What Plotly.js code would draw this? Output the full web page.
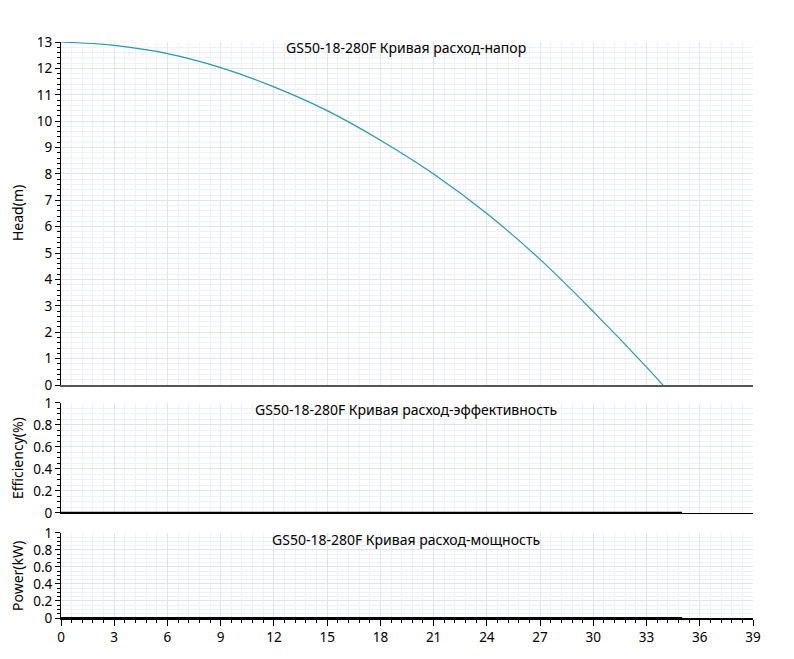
<!DOCTYPE html>
<html>
<head>
<meta charset="utf-8">
<script src="https://cdn.plot.ly/plotly-3.0.1.min.js"></script>
<style>html,body{margin:0;padding:0;background:#fff;}#chart{width:794px;height:659px;}</style>
</head>
<body>
<div id="chart"></div>
<script>
const headFlow = [0, 3, 6, 9, 12, 15, 18, 21, 24, 27, 30, 33, 33.92];
const headValues = [13.0, 12.87, 12.56, 12.03, 11.3, 10.4, 9.28, 8.0, 6.5, 4.76, 2.78, 0.68, 0];
const effFlow = [0, 35];
const effValues = [0, 0];
const powerFlow = [0, 35];
const powerValues = [0, 0];
const titleHead = "GS50-18-280F Кривая расход-напор";
const titleEff = "GS50-18-280F Кривая расход-эффективность";
const titlePower = "GS50-18-280F Кривая расход-мощность";

const FONT = "Noto Sans, sans-serif";
const majorGrid = "#dfe5ef";
const minorGrid = "#eef2f8";

function xAxis(extra) {
  return Object.assign({
    range: [0, 39], dtick: 3, tick0: 0,
    showgrid: true, gridcolor: majorGrid, gridwidth: 1,
    minor: {dtick: 0.6, showgrid: true, gridcolor: minorGrid, ticks: '', ticklen: 3},
    zeroline: false, showline: true, linecolor: '#555', linewidth: 2,
    ticks: '', showticklabels: false, fixedrange: true
  }, extra || {});
}
function yAxis(domain, range, dtick, minorDtick, extra) {
  return Object.assign({
    domain: domain, range: range, dtick: dtick, tick0: 0,
    showgrid: true, gridcolor: majorGrid, gridwidth: 1,
    minor: {dtick: minorDtick, showgrid: true, gridcolor: minorGrid, ticks: 'outside', ticklen: 3, tickcolor: '#000'},
    zeroline: false, showline: true, linecolor: '#000', linewidth: 1,
    ticks: 'outside', ticklen: 5, tickcolor: '#000',
    tickfont: {family: FONT, size: 13.5, color: '#000'},
    fixedrange: true
  }, extra || {});
}

const data = [
  {x: headFlow, y: headValues, type: 'scatter', mode: 'lines', line: {color: '#2a97b4', width: 1.2, shape: 'spline', smoothing: 1}, xaxis: 'x', yaxis: 'y', hoverinfo: 'skip'},
  {x: effFlow, y: effValues, type: 'scatter', mode: 'lines', line: {color: '#000', width: 2.5}, xaxis: 'x2', yaxis: 'y2', hoverinfo: 'skip', cliponaxis: false},
  {x: powerFlow, y: powerValues, type: 'scatter', mode: 'lines', line: {color: '#000', width: 2}, xaxis: 'x3', yaxis: 'y3', hoverinfo: 'skip', cliponaxis: false}
];

function py(px) { return (618 - px) / 576; }
const titleFont = {family: FONT, size: 14, color: '#000'};

const layout = {
  width: 794, height: 659,
  margin: {l: 61, r: 41, t: 42, b: 41},
  paper_bgcolor: '#fff', plot_bgcolor: '#fff',
  showlegend: false,
  font: {family: FONT, size: 13, color: '#000'},
  xaxis: xAxis({anchor: 'y'}),
  xaxis2: xAxis({anchor: 'y2', matches: 'x', linecolor: '#000', linewidth: 1.5}),
  xaxis3: xAxis({anchor: 'y3', matches: 'x', linecolor: '#000', linewidth: 1.5,
    showticklabels: true, ticks: 'outside', ticklen: 6, tickcolor: '#000',
    minor: {dtick: 0.6, showgrid: true, gridcolor: minorGrid, ticks: 'outside', ticklen: 3, tickcolor: '#000'},
    tickfont: {family: FONT, size: 13.5, color: '#000'}}),
  yaxis: yAxis([0.4045, 1], [0, 13], 1, 0.2, {anchor: 'x'}),
  yaxis2: yAxis([0.1823, 0.3733], [0, 1], 0.2, 0.05, {anchor: 'x2'}),
  yaxis3: yAxis([0, 0.1476], [0, 1], 0.2, 0.05, {anchor: 'x3'}),
  annotations: [
    {text: titleHead, xref: 'paper', yref: 'paper', x: (406 - 61) / 692, y: py(48), xanchor: 'center', yanchor: 'middle', showarrow: false, font: titleFont},
    {text: titleEff, xref: 'paper', yref: 'paper', x: (406 - 61) / 692, y: py(409), xanchor: 'center', yanchor: 'middle', showarrow: false, font: titleFont},
    {text: titlePower, xref: 'paper', yref: 'paper', x: (406 - 61) / 692, y: py(539), xanchor: 'center', yanchor: 'middle', showarrow: false, font: titleFont},
    {text: 'Head(m)', xref: 'paper', yref: 'paper', x: (17 - 61) / 692, y: py(213), xanchor: 'center', yanchor: 'middle', textangle: -90, showarrow: false, font: titleFont},
    {text: 'Efficiency(%)', xref: 'paper', yref: 'paper', x: (17 - 61) / 692, y: py(458), xanchor: 'center', yanchor: 'middle', textangle: -90, showarrow: false, font: titleFont},
    {text: 'Power(kW)', xref: 'paper', yref: 'paper', x: (17 - 61) / 692, y: py(576), xanchor: 'center', yanchor: 'middle', textangle: -90, showarrow: false, font: titleFont}
  ]
};

Plotly.newPlot('chart', data, layout, {displayModeBar: false, staticPlot: true});
</script>
</body>
</html>
